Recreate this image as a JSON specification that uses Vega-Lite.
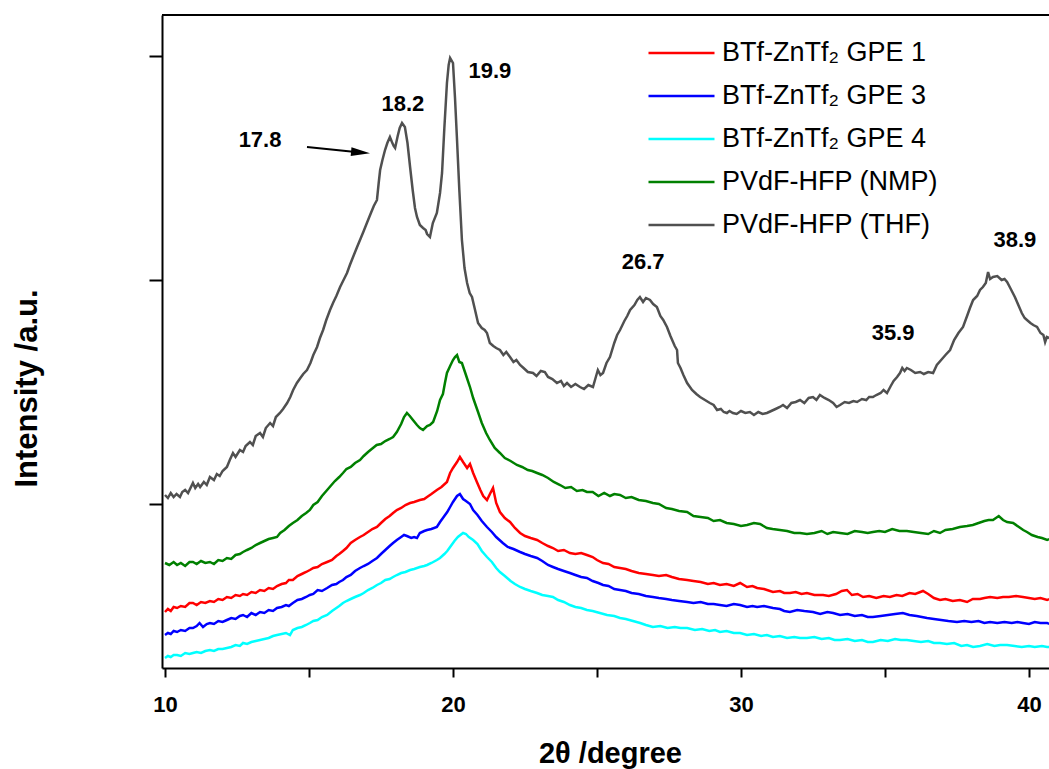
{
"$schema": "https://vega.github.io/schema/vega-lite/v6.json",
"width": 887, "height": 653,
"autosize": {"type": "none"},
"padding": {"left": 162, "top": 15, "right": 0, "bottom": 101},
"background": "white",
"config": {"view": {"stroke": null}, "font": "Liberation Sans"},
"datasets": {
"ann": [
{"t":"17.8","x":13.30,"y":528},{"t":"18.2","x":18.26,"y":564},{"t":"19.9","x":21.28,"y":597},
{"t":"26.7","x":26.60,"y":406},{"t":"35.9","x":35.28,"y":335},{"t":"38.9","x":39.51,"y":428}
],
"arrow": [{"x":14.93,"y":521,"x2":16.79,"y2":515.5}],
"xrd": [
{"s":"T","x":10.0,"y":173},{"s":"T","x":10.1,"y":170},{"s":"T","x":10.2,"y":175},{"s":"T","x":10.3,"y":171},{"s":"T","x":10.4,"y":174},{"s":"T","x":10.52,"y":171},{"s":"T","x":10.6,"y":176},{"s":"T","x":10.7,"y":178},{"s":"T","x":10.8,"y":175},{"s":"T","x":10.97,"y":185},{"s":"T","x":11.05,"y":180},{"s":"T","x":11.15,"y":184},{"s":"T","x":11.22,"y":181},{"s":"T","x":11.35,"y":186},{"s":"T","x":11.45,"y":183},{"s":"T","x":11.56,"y":191},{"s":"T","x":11.7,"y":188},{"s":"T","x":11.8,"y":194},{"s":"T","x":11.9,"y":192},{"s":"T","x":12.0,"y":197},{"s":"T","x":12.15,"y":201},{"s":"T","x":12.25,"y":208},{"s":"T","x":12.36,"y":215},{"s":"T","x":12.45,"y":211},{"s":"T","x":12.6,"y":218},{"s":"T","x":12.71,"y":216},{"s":"T","x":12.8,"y":222},{"s":"T","x":12.95,"y":226},{"s":"T","x":13.05,"y":223},{"s":"T","x":13.15,"y":232},{"s":"T","x":13.3,"y":235},{"s":"T","x":13.4,"y":231},{"s":"T","x":13.5,"y":240},{"s":"T","x":13.65,"y":245},{"s":"T","x":13.75,"y":242},{"s":"T","x":13.85,"y":251},{"s":"T","x":13.99,"y":255},{"s":"T","x":14.1,"y":259},{"s":"T","x":14.24,"y":265},{"s":"T","x":14.35,"y":271},{"s":"T","x":14.45,"y":278},{"s":"T","x":14.58,"y":285},{"s":"T","x":14.7,"y":290},{"s":"T","x":14.8,"y":294},{"s":"T","x":14.93,"y":298},{"s":"T","x":15.05,"y":305},{"s":"T","x":15.15,"y":313},{"s":"T","x":15.28,"y":321},{"s":"T","x":15.38,"y":330},{"s":"T","x":15.49,"y":338},{"s":"T","x":15.6,"y":348},{"s":"T","x":15.73,"y":358},{"s":"T","x":15.85,"y":366},{"s":"T","x":15.95,"y":372},{"s":"T","x":16.08,"y":381},{"s":"T","x":16.2,"y":388},{"s":"T","x":16.32,"y":395},{"s":"T","x":16.42,"y":403},{"s":"T","x":16.53,"y":411},{"s":"T","x":16.67,"y":421},{"s":"T","x":16.8,"y":430},{"s":"T","x":16.9,"y":437},{"s":"T","x":17.01,"y":445},{"s":"T","x":17.15,"y":455},{"s":"T","x":17.25,"y":462},{"s":"T","x":17.36,"y":468},{"s":"T","x":17.42,"y":485},{"s":"T","x":17.47,"y":498},{"s":"T","x":17.55,"y":508},{"s":"T","x":17.64,"y":518},{"s":"T","x":17.72,"y":525},{"s":"T","x":17.81,"y":531},{"s":"T","x":17.88,"y":526},{"s":"T","x":17.94,"y":522},{"s":"T","x":17.99,"y":520},{"s":"T","x":18.08,"y":532},{"s":"T","x":18.15,"y":540},{"s":"T","x":18.23,"y":545},{"s":"T","x":18.33,"y":541},{"s":"T","x":18.42,"y":525},{"s":"T","x":18.51,"y":501},{"s":"T","x":18.6,"y":478},{"s":"T","x":18.68,"y":460},{"s":"T","x":18.75,"y":451},{"s":"T","x":18.85,"y":443},{"s":"T","x":18.96,"y":440},{"s":"T","x":19.05,"y":438},{"s":"T","x":19.1,"y":434},{"s":"T","x":19.2,"y":431},{"s":"T","x":19.3,"y":445},{"s":"T","x":19.44,"y":455},{"s":"T","x":19.55,"y":475},{"s":"T","x":19.62,"y":495},{"s":"T","x":19.7,"y":540},{"s":"T","x":19.79,"y":585},{"s":"T","x":19.85,"y":603},{"s":"T","x":19.9,"y":610},{"s":"T","x":20.0,"y":605},{"s":"T","x":20.07,"y":570},{"s":"T","x":20.14,"y":528},{"s":"T","x":20.22,"y":478},{"s":"T","x":20.31,"y":428},{"s":"T","x":20.4,"y":400},{"s":"T","x":20.49,"y":385},{"s":"T","x":20.58,"y":375},{"s":"T","x":20.66,"y":371},{"s":"T","x":20.75,"y":360},{"s":"T","x":20.87,"y":345},{"s":"T","x":21.0,"y":340},{"s":"T","x":21.1,"y":338},{"s":"T","x":21.18,"y":335},{"s":"T","x":21.28,"y":325},{"s":"T","x":21.4,"y":322},{"s":"T","x":21.5,"y":320},{"s":"T","x":21.63,"y":318},{"s":"T","x":21.75,"y":313},{"s":"T","x":21.85,"y":316},{"s":"T","x":21.98,"y":311},{"s":"T","x":22.1,"y":306},{"s":"T","x":22.2,"y":308},{"s":"T","x":22.33,"y":303},{"s":"T","x":22.45,"y":300},{"s":"T","x":22.6,"y":296},{"s":"T","x":22.78,"y":295},{"s":"T","x":22.9,"y":292},{"s":"T","x":23.05,"y":297},{"s":"T","x":23.19,"y":296},{"s":"T","x":23.3,"y":291},{"s":"T","x":23.45,"y":289},{"s":"T","x":23.61,"y":285},{"s":"T","x":23.75,"y":287},{"s":"T","x":23.85,"y":282},{"s":"T","x":23.96,"y":285},{"s":"T","x":24.1,"y":281},{"s":"T","x":24.25,"y":284},{"s":"T","x":24.41,"y":281},{"s":"T","x":24.55,"y":279},{"s":"T","x":24.7,"y":283},{"s":"T","x":24.86,"y":281},{"s":"T","x":24.95,"y":290},{"s":"T","x":25.03,"y":298},{"s":"T","x":25.12,"y":293},{"s":"T","x":25.21,"y":295},{"s":"T","x":25.33,"y":305},{"s":"T","x":25.45,"y":311},{"s":"T","x":25.6,"y":325},{"s":"T","x":25.7,"y":333},{"s":"T","x":25.8,"y":338},{"s":"T","x":25.95,"y":347},{"s":"T","x":26.05,"y":352},{"s":"T","x":26.15,"y":358},{"s":"T","x":26.3,"y":363},{"s":"T","x":26.4,"y":368},{"s":"T","x":26.49,"y":371},{"s":"T","x":26.6,"y":366},{"s":"T","x":26.7,"y":370},{"s":"T","x":26.84,"y":368},{"s":"T","x":26.95,"y":364},{"s":"T","x":27.08,"y":361},{"s":"T","x":27.2,"y":352},{"s":"T","x":27.3,"y":348},{"s":"T","x":27.43,"y":341},{"s":"T","x":27.55,"y":332},{"s":"T","x":27.7,"y":322},{"s":"T","x":27.78,"y":318},{"s":"T","x":27.81,"y":305},{"s":"T","x":27.9,"y":300},{"s":"T","x":28.0,"y":293},{"s":"T","x":28.13,"y":285},{"s":"T","x":28.3,"y":278},{"s":"T","x":28.45,"y":274},{"s":"T","x":28.58,"y":271},{"s":"T","x":28.75,"y":268},{"s":"T","x":28.92,"y":265},{"s":"T","x":29.05,"y":263},{"s":"T","x":29.17,"y":258},{"s":"T","x":29.3,"y":259},{"s":"T","x":29.4,"y":256},{"s":"T","x":29.51,"y":255},{"s":"T","x":29.6,"y":257},{"s":"T","x":29.72,"y":255},{"s":"T","x":29.85,"y":254},{"s":"T","x":30.0,"y":257},{"s":"T","x":30.15,"y":255},{"s":"T","x":30.31,"y":256},{"s":"T","x":30.45,"y":253},{"s":"T","x":30.6,"y":256},{"s":"T","x":30.75,"y":254},{"s":"T","x":30.9,"y":255},{"s":"T","x":31.05,"y":257},{"s":"T","x":31.2,"y":259},{"s":"T","x":31.35,"y":261},{"s":"T","x":31.46,"y":263},{"s":"T","x":31.6,"y":260},{"s":"T","x":31.75,"y":265},{"s":"T","x":31.9,"y":266},{"s":"T","x":32.05,"y":268},{"s":"T","x":32.2,"y":265},{"s":"T","x":32.35,"y":270},{"s":"T","x":32.5,"y":271},{"s":"T","x":32.62,"y":268},{"s":"T","x":32.74,"y":273},{"s":"T","x":32.9,"y":270},{"s":"T","x":33.05,"y":268},{"s":"T","x":33.2,"y":265},{"s":"T","x":33.32,"y":261},{"s":"T","x":33.44,"y":263},{"s":"T","x":33.6,"y":266},{"s":"T","x":33.75,"y":265},{"s":"T","x":33.9,"y":267},{"s":"T","x":34.03,"y":266},{"s":"T","x":34.2,"y":269},{"s":"T","x":34.35,"y":268},{"s":"T","x":34.45,"y":271},{"s":"T","x":34.58,"y":271},{"s":"T","x":34.7,"y":273},{"s":"T","x":34.85,"y":275},{"s":"T","x":34.95,"y":278},{"s":"T","x":35.07,"y":275},{"s":"T","x":35.2,"y":282},{"s":"T","x":35.3,"y":287},{"s":"T","x":35.42,"y":291},{"s":"T","x":35.52,"y":295},{"s":"T","x":35.6,"y":300},{"s":"T","x":35.68,"y":297},{"s":"T","x":35.76,"y":300},{"s":"T","x":35.9,"y":298},{"s":"T","x":36.05,"y":295},{"s":"T","x":36.22,"y":296},{"s":"T","x":36.35,"y":294},{"s":"T","x":36.5,"y":296},{"s":"T","x":36.67,"y":295},{"s":"T","x":36.8,"y":303},{"s":"T","x":36.95,"y":308},{"s":"T","x":37.1,"y":313},{"s":"T","x":37.26,"y":318},{"s":"T","x":37.4,"y":328},{"s":"T","x":37.55,"y":335},{"s":"T","x":37.71,"y":341},{"s":"T","x":37.85,"y":352},{"s":"T","x":37.95,"y":360},{"s":"T","x":38.06,"y":368},{"s":"T","x":38.2,"y":372},{"s":"T","x":38.3,"y":378},{"s":"T","x":38.4,"y":381},{"s":"T","x":38.5,"y":385},{"s":"T","x":38.58,"y":396},{"s":"T","x":38.65,"y":389},{"s":"T","x":38.75,"y":391},{"s":"T","x":38.9,"y":392},{"s":"T","x":39.05,"y":388},{"s":"T","x":39.15,"y":389},{"s":"T","x":39.24,"y":386},{"s":"T","x":39.35,"y":380},{"s":"T","x":39.51,"y":371},{"s":"T","x":39.6,"y":365},{"s":"T","x":39.75,"y":355},{"s":"T","x":39.85,"y":350},{"s":"T","x":39.93,"y":348},{"s":"T","x":40.05,"y":345},{"s":"T","x":40.15,"y":343},{"s":"T","x":40.28,"y":341},{"s":"T","x":40.4,"y":335},{"s":"T","x":40.5,"y":333},{"s":"T","x":40.56,"y":326},{"s":"T","x":40.62,"y":331},{"s":"T","x":40.7,"y":330},
{"s":"N","x":10.0,"y":105},{"s":"N","x":10.15,"y":103},{"s":"N","x":10.3,"y":106},{"s":"N","x":10.42,"y":103},{"s":"N","x":10.55,"y":105},{"s":"N","x":10.7,"y":102},{"s":"N","x":10.85,"y":106},{"s":"N","x":10.97,"y":106},{"s":"N","x":11.1,"y":104},{"s":"N","x":11.25,"y":107},{"s":"N","x":11.4,"y":105},{"s":"N","x":11.56,"y":106},{"s":"N","x":11.7,"y":104},{"s":"N","x":11.85,"y":108},{"s":"N","x":12.0,"y":107},{"s":"N","x":12.15,"y":110},{"s":"N","x":12.3,"y":109},{"s":"N","x":12.45,"y":113},{"s":"N","x":12.6,"y":114},{"s":"N","x":12.71,"y":116},{"s":"N","x":12.85,"y":118},{"s":"N","x":13.0,"y":120},{"s":"N","x":13.15,"y":123},{"s":"N","x":13.3,"y":125},{"s":"N","x":13.45,"y":127},{"s":"N","x":13.6,"y":129},{"s":"N","x":13.75,"y":130},{"s":"N","x":13.89,"y":131},{"s":"N","x":14.0,"y":135},{"s":"N","x":14.15,"y":138},{"s":"N","x":14.3,"y":142},{"s":"N","x":14.44,"y":145},{"s":"N","x":14.6,"y":148},{"s":"N","x":14.75,"y":152},{"s":"N","x":14.9,"y":155},{"s":"N","x":15.03,"y":158},{"s":"N","x":15.15,"y":163},{"s":"N","x":15.3,"y":166},{"s":"N","x":15.45,"y":172},{"s":"N","x":15.63,"y":178},{"s":"N","x":15.75,"y":182},{"s":"N","x":15.9,"y":187},{"s":"N","x":16.05,"y":191},{"s":"N","x":16.18,"y":195},{"s":"N","x":16.3,"y":199},{"s":"N","x":16.45,"y":201},{"s":"N","x":16.6,"y":205},{"s":"N","x":16.77,"y":208},{"s":"N","x":16.9,"y":212},{"s":"N","x":17.05,"y":216},{"s":"N","x":17.22,"y":220},{"s":"N","x":17.35,"y":223},{"s":"N","x":17.5,"y":224},{"s":"N","x":17.65,"y":227},{"s":"N","x":17.8,"y":229},{"s":"N","x":17.92,"y":231},{"s":"N","x":18.05,"y":236},{"s":"N","x":18.2,"y":244},{"s":"N","x":18.3,"y":251},{"s":"N","x":18.4,"y":255},{"s":"N","x":18.5,"y":252},{"s":"N","x":18.61,"y":248},{"s":"N","x":18.75,"y":243},{"s":"N","x":18.85,"y":240},{"s":"N","x":18.96,"y":238},{"s":"N","x":19.1,"y":242},{"s":"N","x":19.2,"y":243},{"s":"N","x":19.31,"y":246},{"s":"N","x":19.45,"y":257},{"s":"N","x":19.55,"y":268},{"s":"N","x":19.65,"y":274},{"s":"N","x":19.72,"y":285},{"s":"N","x":19.79,"y":295},{"s":"N","x":19.9,"y":302},{"s":"N","x":20.0,"y":308},{"s":"N","x":20.07,"y":311},{"s":"N","x":20.14,"y":313},{"s":"N","x":20.22,"y":306},{"s":"N","x":20.31,"y":305},{"s":"N","x":20.45,"y":293},{"s":"N","x":20.59,"y":281},{"s":"N","x":20.7,"y":270},{"s":"N","x":20.87,"y":256},{"s":"N","x":21.0,"y":245},{"s":"N","x":21.15,"y":235},{"s":"N","x":21.28,"y":228},{"s":"N","x":21.45,"y":220},{"s":"N","x":21.63,"y":215},{"s":"N","x":21.8,"y":210},{"s":"N","x":22.0,"y":207},{"s":"N","x":22.22,"y":203},{"s":"N","x":22.4,"y":201},{"s":"N","x":22.6,"y":198},{"s":"N","x":22.75,"y":197},{"s":"N","x":22.92,"y":195},{"s":"N","x":23.1,"y":193},{"s":"N","x":23.3,"y":190},{"s":"N","x":23.5,"y":186},{"s":"N","x":23.72,"y":183},{"s":"N","x":23.9,"y":180},{"s":"N","x":24.1,"y":181},{"s":"N","x":24.3,"y":177},{"s":"N","x":24.5,"y":178},{"s":"N","x":24.65,"y":176},{"s":"N","x":24.85,"y":176},{"s":"N","x":25.05,"y":172},{"s":"N","x":25.25,"y":175},{"s":"N","x":25.45,"y":172},{"s":"N","x":25.6,"y":174},{"s":"N","x":25.8,"y":173},{"s":"N","x":26.0,"y":170},{"s":"N","x":26.2,"y":171},{"s":"N","x":26.45,"y":168},{"s":"N","x":26.7,"y":167},{"s":"N","x":26.94,"y":165},{"s":"N","x":27.15,"y":164},{"s":"N","x":27.4,"y":160},{"s":"N","x":27.6,"y":159},{"s":"N","x":27.85,"y":157},{"s":"N","x":28.13,"y":156},{"s":"N","x":28.35,"y":152},{"s":"N","x":28.6,"y":151},{"s":"N","x":28.85,"y":150},{"s":"N","x":29.05,"y":147},{"s":"N","x":29.27,"y":148},{"s":"N","x":29.5,"y":145},{"s":"N","x":29.75,"y":144},{"s":"N","x":30.0,"y":142},{"s":"N","x":30.21,"y":143},{"s":"N","x":30.45,"y":145},{"s":"N","x":30.66,"y":144},{"s":"N","x":30.9,"y":140},{"s":"N","x":31.1,"y":139},{"s":"N","x":31.35,"y":138},{"s":"N","x":31.6,"y":137},{"s":"N","x":31.85,"y":135},{"s":"N","x":32.05,"y":135},{"s":"N","x":32.29,"y":134},{"s":"N","x":32.55,"y":135},{"s":"N","x":32.8,"y":137},{"s":"N","x":33.0,"y":134},{"s":"N","x":33.2,"y":136},{"s":"N","x":33.44,"y":135},{"s":"N","x":33.7,"y":134},{"s":"N","x":33.95,"y":137},{"s":"N","x":34.2,"y":136},{"s":"N","x":34.4,"y":135},{"s":"N","x":34.58,"y":136},{"s":"N","x":34.8,"y":137},{"s":"N","x":35.0,"y":136},{"s":"N","x":35.25,"y":139},{"s":"N","x":35.5,"y":137},{"s":"N","x":35.76,"y":137},{"s":"N","x":36.0,"y":136},{"s":"N","x":36.25,"y":135},{"s":"N","x":36.5,"y":134},{"s":"N","x":36.7,"y":137},{"s":"N","x":36.91,"y":135},{"s":"N","x":37.1,"y":138},{"s":"N","x":37.35,"y":139},{"s":"N","x":37.6,"y":141},{"s":"N","x":37.85,"y":142},{"s":"N","x":38.05,"y":143},{"s":"N","x":38.25,"y":145},{"s":"N","x":38.45,"y":147},{"s":"N","x":38.6,"y":148},{"s":"N","x":38.75,"y":148},{"s":"N","x":38.95,"y":152},{"s":"N","x":39.1,"y":148},{"s":"N","x":39.24,"y":146},{"s":"N","x":39.45,"y":145},{"s":"N","x":39.65,"y":141},{"s":"N","x":39.8,"y":138},{"s":"N","x":39.93,"y":136},{"s":"N","x":40.1,"y":133},{"s":"N","x":40.3,"y":131},{"s":"N","x":40.45,"y":130},{"s":"N","x":40.63,"y":128},{"s":"N","x":40.7,"y":129},
{"s":"1","x":10.0,"y":56},{"s":"1","x":10.1,"y":59},{"s":"1","x":10.2,"y":57},{"s":"1","x":10.3,"y":61},{"s":"1","x":10.42,"y":60},{"s":"1","x":10.55,"y":62},{"s":"1","x":10.7,"y":61},{"s":"1","x":10.85,"y":65},{"s":"1","x":10.97,"y":65},{"s":"1","x":11.1,"y":63},{"s":"1","x":11.25,"y":66},{"s":"1","x":11.4,"y":65},{"s":"1","x":11.56,"y":67},{"s":"1","x":11.7,"y":66},{"s":"1","x":11.85,"y":69},{"s":"1","x":12.0,"y":68},{"s":"1","x":12.15,"y":71},{"s":"1","x":12.3,"y":70},{"s":"1","x":12.45,"y":73},{"s":"1","x":12.6,"y":72},{"s":"1","x":12.71,"y":74},{"s":"1","x":12.85,"y":73},{"s":"1","x":13.0,"y":76},{"s":"1","x":13.15,"y":75},{"s":"1","x":13.3,"y":78},{"s":"1","x":13.45,"y":77},{"s":"1","x":13.6,"y":80},{"s":"1","x":13.75,"y":79},{"s":"1","x":13.89,"y":82},{"s":"1","x":14.05,"y":84},{"s":"1","x":14.2,"y":85},{"s":"1","x":14.3,"y":88},{"s":"1","x":14.44,"y":88},{"s":"1","x":14.6,"y":92},{"s":"1","x":14.75,"y":94},{"s":"1","x":14.9,"y":96},{"s":"1","x":15.03,"y":98},{"s":"1","x":15.15,"y":100},{"s":"1","x":15.3,"y":101},{"s":"1","x":15.45,"y":104},{"s":"1","x":15.63,"y":106},{"s":"1","x":15.8,"y":108},{"s":"1","x":15.95,"y":112},{"s":"1","x":16.05,"y":114},{"s":"1","x":16.18,"y":117},{"s":"1","x":16.3,"y":120},{"s":"1","x":16.45,"y":125},{"s":"1","x":16.6,"y":128},{"s":"1","x":16.77,"y":131},{"s":"1","x":16.9,"y":133},{"s":"1","x":17.05,"y":136},{"s":"1","x":17.2,"y":139},{"s":"1","x":17.36,"y":141},{"s":"1","x":17.5,"y":145},{"s":"1","x":17.65,"y":149},{"s":"1","x":17.8,"y":152},{"s":"1","x":17.92,"y":155},{"s":"1","x":18.05,"y":158},{"s":"1","x":18.2,"y":160},{"s":"1","x":18.35,"y":163},{"s":"1","x":18.51,"y":165},{"s":"1","x":18.65,"y":166},{"s":"1","x":18.85,"y":168},{"s":"1","x":19.0,"y":169},{"s":"1","x":19.1,"y":171},{"s":"1","x":19.25,"y":174},{"s":"1","x":19.44,"y":178},{"s":"1","x":19.6,"y":181},{"s":"1","x":19.79,"y":186},{"s":"1","x":19.9,"y":195},{"s":"1","x":20.0,"y":200},{"s":"1","x":20.14,"y":206},{"s":"1","x":20.24,"y":211},{"s":"1","x":20.35,"y":206},{"s":"1","x":20.49,"y":200},{"s":"1","x":20.59,"y":204},{"s":"1","x":20.7,"y":195},{"s":"1","x":20.83,"y":186},{"s":"1","x":20.95,"y":178},{"s":"1","x":21.05,"y":172},{"s":"1","x":21.18,"y":168},{"s":"1","x":21.3,"y":175},{"s":"1","x":21.39,"y":180},{"s":"1","x":21.5,"y":165},{"s":"1","x":21.63,"y":156},{"s":"1","x":21.8,"y":150},{"s":"1","x":21.98,"y":146},{"s":"1","x":22.15,"y":140},{"s":"1","x":22.33,"y":135},{"s":"1","x":22.5,"y":132},{"s":"1","x":22.7,"y":130},{"s":"1","x":22.92,"y":128},{"s":"1","x":23.1,"y":125},{"s":"1","x":23.3,"y":122},{"s":"1","x":23.47,"y":120},{"s":"1","x":23.65,"y":117},{"s":"1","x":23.85,"y":118},{"s":"1","x":24.06,"y":115},{"s":"1","x":24.25,"y":114},{"s":"1","x":24.45,"y":115},{"s":"1","x":24.65,"y":113},{"s":"1","x":24.85,"y":111},{"s":"1","x":25.0,"y":108},{"s":"1","x":25.21,"y":105},{"s":"1","x":25.4,"y":104},{"s":"1","x":25.6,"y":101},{"s":"1","x":25.8,"y":100},{"s":"1","x":26.0,"y":99},{"s":"1","x":26.2,"y":97},{"s":"1","x":26.45,"y":95},{"s":"1","x":26.7,"y":94},{"s":"1","x":26.94,"y":93},{"s":"1","x":27.15,"y":92},{"s":"1","x":27.4,"y":93},{"s":"1","x":27.6,"y":91},{"s":"1","x":27.85,"y":89},{"s":"1","x":28.13,"y":88},{"s":"1","x":28.35,"y":87},{"s":"1","x":28.6,"y":86},{"s":"1","x":28.85,"y":84},{"s":"1","x":29.05,"y":85},{"s":"1","x":29.27,"y":83},{"s":"1","x":29.5,"y":84},{"s":"1","x":29.75,"y":82},{"s":"1","x":29.97,"y":85},{"s":"1","x":30.21,"y":81},{"s":"1","x":30.4,"y":82},{"s":"1","x":30.56,"y":80},{"s":"1","x":30.8,"y":79},{"s":"1","x":31.11,"y":76},{"s":"1","x":31.35,"y":77},{"s":"1","x":31.5,"y":75},{"s":"1","x":31.7,"y":75},{"s":"1","x":31.9,"y":76},{"s":"1","x":32.1,"y":74},{"s":"1","x":32.29,"y":75},{"s":"1","x":32.55,"y":73},{"s":"1","x":32.85,"y":73},{"s":"1","x":33.05,"y":72},{"s":"1","x":33.3,"y":74},{"s":"1","x":33.5,"y":77},{"s":"1","x":33.68,"y":78},{"s":"1","x":33.85,"y":73},{"s":"1","x":34.05,"y":74},{"s":"1","x":34.24,"y":71},{"s":"1","x":34.45,"y":72},{"s":"1","x":34.7,"y":70},{"s":"1","x":34.95,"y":72},{"s":"1","x":35.17,"y":71},{"s":"1","x":35.4,"y":73},{"s":"1","x":35.6,"y":72},{"s":"1","x":35.85,"y":75},{"s":"1","x":36.05,"y":74},{"s":"1","x":36.32,"y":77},{"s":"1","x":36.5,"y":74},{"s":"1","x":36.7,"y":70},{"s":"1","x":36.91,"y":68},{"s":"1","x":37.1,"y":69},{"s":"1","x":37.35,"y":67},{"s":"1","x":37.6,"y":68},{"s":"1","x":37.85,"y":66},{"s":"1","x":38.05,"y":69},{"s":"1","x":38.3,"y":69},{"s":"1","x":38.45,"y":70},{"s":"1","x":38.65,"y":71},{"s":"1","x":38.9,"y":70},{"s":"1","x":39.1,"y":71},{"s":"1","x":39.3,"y":71},{"s":"1","x":39.55,"y":72},{"s":"1","x":39.79,"y":71},{"s":"1","x":40.0,"y":70},{"s":"1","x":40.2,"y":69},{"s":"1","x":40.4,"y":70},{"s":"1","x":40.63,"y":68},{"s":"1","x":40.7,"y":69},
{"s":"3","x":10.0,"y":33},{"s":"3","x":10.1,"y":35},{"s":"3","x":10.2,"y":34},{"s":"3","x":10.3,"y":37},{"s":"3","x":10.42,"y":36},{"s":"3","x":10.55,"y":38},{"s":"3","x":10.7,"y":37},{"s":"3","x":10.85,"y":40},{"s":"3","x":10.97,"y":40},{"s":"3","x":11.1,"y":42},{"s":"3","x":11.2,"y":45},{"s":"3","x":11.32,"y":41},{"s":"3","x":11.45,"y":44},{"s":"3","x":11.56,"y":45},{"s":"3","x":11.7,"y":44},{"s":"3","x":11.85,"y":47},{"s":"3","x":12.0,"y":46},{"s":"3","x":12.15,"y":48},{"s":"3","x":12.3,"y":50},{"s":"3","x":12.45,"y":49},{"s":"3","x":12.6,"y":52},{"s":"3","x":12.71,"y":53},{"s":"3","x":12.85,"y":51},{"s":"3","x":13.0,"y":55},{"s":"3","x":13.15,"y":53},{"s":"3","x":13.3,"y":56},{"s":"3","x":13.45,"y":55},{"s":"3","x":13.6,"y":58},{"s":"3","x":13.75,"y":57},{"s":"3","x":13.89,"y":60},{"s":"3","x":14.05,"y":61},{"s":"3","x":14.2,"y":63},{"s":"3","x":14.3,"y":62},{"s":"3","x":14.44,"y":65},{"s":"3","x":14.6,"y":68},{"s":"3","x":14.75,"y":69},{"s":"3","x":14.9,"y":71},{"s":"3","x":15.03,"y":73},{"s":"3","x":15.15,"y":74},{"s":"3","x":15.3,"y":78},{"s":"3","x":15.45,"y":77},{"s":"3","x":15.63,"y":80},{"s":"3","x":15.8,"y":83},{"s":"3","x":15.95,"y":84},{"s":"3","x":16.05,"y":86},{"s":"3","x":16.18,"y":88},{"s":"3","x":16.3,"y":91},{"s":"3","x":16.45,"y":93},{"s":"3","x":16.6,"y":97},{"s":"3","x":16.77,"y":100},{"s":"3","x":16.9,"y":102},{"s":"3","x":17.05,"y":104},{"s":"3","x":17.2,"y":107},{"s":"3","x":17.36,"y":110},{"s":"3","x":17.5,"y":114},{"s":"3","x":17.65,"y":118},{"s":"3","x":17.8,"y":122},{"s":"3","x":17.92,"y":125},{"s":"3","x":18.05,"y":128},{"s":"3","x":18.2,"y":131},{"s":"3","x":18.3,"y":133},{"s":"3","x":18.4,"y":132},{"s":"3","x":18.55,"y":130},{"s":"3","x":18.65,"y":131},{"s":"3","x":18.75,"y":130},{"s":"3","x":18.85,"y":135},{"s":"3","x":19.0,"y":137},{"s":"3","x":19.1,"y":138},{"s":"3","x":19.25,"y":139},{"s":"3","x":19.44,"y":141},{"s":"3","x":19.55,"y":146},{"s":"3","x":19.7,"y":152},{"s":"3","x":19.8,"y":156},{"s":"3","x":19.9,"y":161},{"s":"3","x":20.0,"y":166},{"s":"3","x":20.14,"y":172},{"s":"3","x":20.24,"y":174},{"s":"3","x":20.35,"y":169},{"s":"3","x":20.45,"y":167},{"s":"3","x":20.59,"y":164},{"s":"3","x":20.7,"y":158},{"s":"3","x":20.85,"y":153},{"s":"3","x":21.0,"y":147},{"s":"3","x":21.18,"y":141},{"s":"3","x":21.35,"y":136},{"s":"3","x":21.5,"y":131},{"s":"3","x":21.73,"y":125},{"s":"3","x":21.9,"y":121},{"s":"3","x":22.1,"y":119},{"s":"3","x":22.33,"y":116},{"s":"3","x":22.5,"y":114},{"s":"3","x":22.7,"y":112},{"s":"3","x":22.92,"y":110},{"s":"3","x":23.1,"y":107},{"s":"3","x":23.3,"y":103},{"s":"3","x":23.47,"y":101},{"s":"3","x":23.65,"y":99},{"s":"3","x":23.85,"y":97},{"s":"3","x":24.06,"y":95},{"s":"3","x":24.25,"y":93},{"s":"3","x":24.45,"y":91},{"s":"3","x":24.65,"y":90},{"s":"3","x":24.85,"y":87},{"s":"3","x":25.05,"y":85},{"s":"3","x":25.21,"y":83},{"s":"3","x":25.4,"y":82},{"s":"3","x":25.6,"y":79},{"s":"3","x":25.8,"y":78},{"s":"3","x":26.0,"y":77},{"s":"3","x":26.2,"y":75},{"s":"3","x":26.45,"y":74},{"s":"3","x":26.7,"y":72},{"s":"3","x":26.94,"y":71},{"s":"3","x":27.15,"y":70},{"s":"3","x":27.4,"y":69},{"s":"3","x":27.6,"y":68},{"s":"3","x":27.85,"y":67},{"s":"3","x":28.13,"y":66},{"s":"3","x":28.35,"y":65},{"s":"3","x":28.6,"y":66},{"s":"3","x":28.85,"y":64},{"s":"3","x":29.05,"y":64},{"s":"3","x":29.27,"y":63},{"s":"3","x":29.5,"y":62},{"s":"3","x":29.75,"y":64},{"s":"3","x":29.97,"y":63},{"s":"3","x":30.21,"y":61},{"s":"3","x":30.4,"y":62},{"s":"3","x":30.56,"y":61},{"s":"3","x":30.8,"y":62},{"s":"3","x":31.11,"y":60},{"s":"3","x":31.35,"y":59},{"s":"3","x":31.5,"y":57},{"s":"3","x":31.7,"y":56},{"s":"3","x":31.95,"y":58},{"s":"3","x":32.2,"y":57},{"s":"3","x":32.5,"y":56},{"s":"3","x":32.75,"y":54},{"s":"3","x":33.0,"y":56},{"s":"3","x":33.2,"y":55},{"s":"3","x":33.44,"y":53},{"s":"3","x":33.7,"y":54},{"s":"3","x":33.95,"y":52},{"s":"3","x":34.2,"y":53},{"s":"3","x":34.4,"y":51},{"s":"3","x":34.58,"y":51},{"s":"3","x":34.85,"y":52},{"s":"3","x":35.1,"y":53},{"s":"3","x":35.35,"y":54},{"s":"3","x":35.62,"y":55},{"s":"3","x":35.85,"y":53},{"s":"3","x":36.1,"y":52},{"s":"3","x":36.46,"y":50},{"s":"3","x":36.7,"y":49},{"s":"3","x":36.95,"y":48},{"s":"3","x":37.2,"y":47},{"s":"3","x":37.5,"y":46},{"s":"3","x":37.75,"y":47},{"s":"3","x":38.0,"y":46},{"s":"3","x":38.25,"y":47},{"s":"3","x":38.45,"y":45},{"s":"3","x":38.65,"y":46},{"s":"3","x":38.9,"y":45},{"s":"3","x":39.15,"y":46},{"s":"3","x":39.4,"y":45},{"s":"3","x":39.6,"y":46},{"s":"3","x":39.79,"y":45},{"s":"3","x":40.0,"y":44},{"s":"3","x":40.2,"y":46},{"s":"3","x":40.4,"y":45},{"s":"3","x":40.63,"y":45},{"s":"3","x":40.7,"y":44},
{"s":"4","x":10.0,"y":10},{"s":"4","x":10.1,"y":12},{"s":"4","x":10.2,"y":11},{"s":"4","x":10.3,"y":13},{"s":"4","x":10.42,"y":13},{"s":"4","x":10.55,"y":12},{"s":"4","x":10.7,"y":15},{"s":"4","x":10.85,"y":14},{"s":"4","x":10.97,"y":15},{"s":"4","x":11.1,"y":16},{"s":"4","x":11.25,"y":15},{"s":"4","x":11.4,"y":17},{"s":"4","x":11.56,"y":18},{"s":"4","x":11.7,"y":17},{"s":"4","x":11.85,"y":19},{"s":"4","x":12.0,"y":19},{"s":"4","x":12.15,"y":20},{"s":"4","x":12.3,"y":21},{"s":"4","x":12.45,"y":23},{"s":"4","x":12.6,"y":22},{"s":"4","x":12.71,"y":25},{"s":"4","x":12.85,"y":24},{"s":"4","x":13.0,"y":26},{"s":"4","x":13.15,"y":27},{"s":"4","x":13.3,"y":28},{"s":"4","x":13.45,"y":29},{"s":"4","x":13.6,"y":30},{"s":"4","x":13.75,"y":32},{"s":"4","x":13.89,"y":33},{"s":"4","x":14.05,"y":34},{"s":"4","x":14.2,"y":35},{"s":"4","x":14.34,"y":33},{"s":"4","x":14.44,"y":38},{"s":"4","x":14.6,"y":40},{"s":"4","x":14.75,"y":41},{"s":"4","x":14.9,"y":43},{"s":"4","x":15.03,"y":45},{"s":"4","x":15.15,"y":47},{"s":"4","x":15.3,"y":48},{"s":"4","x":15.45,"y":51},{"s":"4","x":15.63,"y":53},{"s":"4","x":15.8,"y":57},{"s":"4","x":15.95,"y":60},{"s":"4","x":16.05,"y":62},{"s":"4","x":16.18,"y":65},{"s":"4","x":16.3,"y":67},{"s":"4","x":16.45,"y":69},{"s":"4","x":16.6,"y":71},{"s":"4","x":16.77,"y":73},{"s":"4","x":16.9,"y":75},{"s":"4","x":17.05,"y":78},{"s":"4","x":17.2,"y":80},{"s":"4","x":17.36,"y":83},{"s":"4","x":17.5,"y":85},{"s":"4","x":17.65,"y":88},{"s":"4","x":17.8,"y":89},{"s":"4","x":17.92,"y":91},{"s":"4","x":18.05,"y":93},{"s":"4","x":18.2,"y":95},{"s":"4","x":18.35,"y":96},{"s":"4","x":18.51,"y":98},{"s":"4","x":18.65,"y":99},{"s":"4","x":18.85,"y":101},{"s":"4","x":19.0,"y":102},{"s":"4","x":19.1,"y":103},{"s":"4","x":19.25,"y":105},{"s":"4","x":19.44,"y":108},{"s":"4","x":19.55,"y":110},{"s":"4","x":19.7,"y":114},{"s":"4","x":19.8,"y":117},{"s":"4","x":19.9,"y":121},{"s":"4","x":20.05,"y":127},{"s":"4","x":20.17,"y":131},{"s":"4","x":20.35,"y":135},{"s":"4","x":20.45,"y":134},{"s":"4","x":20.55,"y":131},{"s":"4","x":20.7,"y":128},{"s":"4","x":20.85,"y":124},{"s":"4","x":21.0,"y":117},{"s":"4","x":21.18,"y":111},{"s":"4","x":21.35,"y":106},{"s":"4","x":21.5,"y":100},{"s":"4","x":21.63,"y":96},{"s":"4","x":21.8,"y":92},{"s":"4","x":22.0,"y":87},{"s":"4","x":22.15,"y":84},{"s":"4","x":22.33,"y":81},{"s":"4","x":22.5,"y":79},{"s":"4","x":22.7,"y":77},{"s":"4","x":22.92,"y":75},{"s":"4","x":23.1,"y":73},{"s":"4","x":23.3,"y":72},{"s":"4","x":23.47,"y":71},{"s":"4","x":23.65,"y":68},{"s":"4","x":23.85,"y":66},{"s":"4","x":24.06,"y":63},{"s":"4","x":24.25,"y":61},{"s":"4","x":24.45,"y":60},{"s":"4","x":24.65,"y":58},{"s":"4","x":24.85,"y":57},{"s":"4","x":25.1,"y":55},{"s":"4","x":25.35,"y":53},{"s":"4","x":25.6,"y":52},{"s":"4","x":25.8,"y":50},{"s":"4","x":26.0,"y":49},{"s":"4","x":26.25,"y":47},{"s":"4","x":26.5,"y":45},{"s":"4","x":26.7,"y":43},{"s":"4","x":26.94,"y":41},{"s":"4","x":27.2,"y":42},{"s":"4","x":27.45,"y":40},{"s":"4","x":27.7,"y":41},{"s":"4","x":27.9,"y":40},{"s":"4","x":28.13,"y":40},{"s":"4","x":28.4,"y":38},{"s":"4","x":28.65,"y":39},{"s":"4","x":28.9,"y":37},{"s":"4","x":29.1,"y":38},{"s":"4","x":29.27,"y":36},{"s":"4","x":29.5,"y":37},{"s":"4","x":29.75,"y":35},{"s":"4","x":29.97,"y":35},{"s":"4","x":30.21,"y":33},{"s":"4","x":30.45,"y":34},{"s":"4","x":30.7,"y":32},{"s":"4","x":30.9,"y":33},{"s":"4","x":31.11,"y":31},{"s":"4","x":31.35,"y":32},{"s":"4","x":31.6,"y":30},{"s":"4","x":31.85,"y":31},{"s":"4","x":32.05,"y":30},{"s":"4","x":32.29,"y":30},{"s":"4","x":32.55,"y":31},{"s":"4","x":32.8,"y":29},{"s":"4","x":33.05,"y":30},{"s":"4","x":33.25,"y":28},{"s":"4","x":33.44,"y":28},{"s":"4","x":33.7,"y":29},{"s":"4","x":33.95,"y":27},{"s":"4","x":34.2,"y":28},{"s":"4","x":34.4,"y":26},{"s":"4","x":34.58,"y":26},{"s":"4","x":34.85,"y":28},{"s":"4","x":35.1,"y":27},{"s":"4","x":35.35,"y":29},{"s":"4","x":35.55,"y":28},{"s":"4","x":35.76,"y":28},{"s":"4","x":36.0,"y":27},{"s":"4","x":36.25,"y":26},{"s":"4","x":36.5,"y":27},{"s":"4","x":36.7,"y":25},{"s":"4","x":36.91,"y":25},{"s":"4","x":37.15,"y":24},{"s":"4","x":37.4,"y":25},{"s":"4","x":37.65,"y":22},{"s":"4","x":37.85,"y":23},{"s":"4","x":38.06,"y":21},{"s":"4","x":38.3,"y":22},{"s":"4","x":38.55,"y":24},{"s":"4","x":38.8,"y":22},{"s":"4","x":39.0,"y":23},{"s":"4","x":39.24,"y":23},{"s":"4","x":39.5,"y":22},{"s":"4","x":39.75,"y":21},{"s":"4","x":40.0,"y":22},{"s":"4","x":40.2,"y":21},{"s":"4","x":40.45,"y":22},{"s":"4","x":40.63,"y":21},{"s":"4","x":40.7,"y":21}
]
},
"layer": [
{
"data": {"name": "xrd"},
"mark": {"type": "line", "clip": true},
"encoding": {
"x": {"field": "x", "type": "quantitative",
"scale": {"domain": [9.896, 40.695], "nice": false, "zero": false},
"axis": {"values": [10,15,20,25,30,35,40], "labelExpr": "datum.value % 10 === 0 ? datum.label : ''",
"title": "2θ /degree", "titleFontSize": 29, "titleFontWeight": "bold", "titleColor": "black",
"titleX": 448, "titleY": 94, "titleBaseline": "alphabetic", "titleAlign": "center",
"labelFontSize": 22, "labelFontWeight": "bold", "labelColor": "black", "labelBaseline": "alphabetic", "labelPadding": 34,
"labelFlush": false, "labelOverlap": false,
"domainColor": "black", "domainWidth": 2, "tickColor": "black", "tickWidth": 2, "tickSize": 9, "grid": false}},
"y": {"field": "y", "type": "quantitative",
"scale": {"domain": [0, 653], "nice": false, "zero": false},
"axis": {"values": [164, 388, 612], "labels": false, "title": "Intensity /a.u.",
"titleFontSize": 31, "titleFontWeight": "bold", "titleColor": "black",
"titleX": -126, "titleY": 373, "titleAngle": 270, "titleBaseline": "alphabetic", "titleAlign": "center",
"domainColor": "black", "domainWidth": 2, "tickColor": "black", "tickWidth": 2, "tickSize": 13, "grid": false}},
"color": {"field": "s", "type": "nominal",
"scale": {"domain": ["1","3","4","N","T"], "range": ["#ff0000","#0000ff","#00ffff","#008000","#505050"]},
"legend": {"orient": "none", "legendX": 485, "legendY": 23, "title": null, "labelLimit": 0,
"labelFontSize": 27, "labelColor": "black", "symbolType": "stroke", "symbolSize": 4356, "labelOffset": 6,
"clipHeight": 30, "rowPadding": 13,
"labelExpr": "datum.label == '1' ? 'BTf-ZnTf₂ GPE 1' : datum.label == '3' ? 'BTf-ZnTf₂ GPE 3' : datum.label == '4' ? 'BTf-ZnTf₂ GPE 4' : datum.label == 'N' ? 'PVdF-HFP (NMP)' : 'PVdF-HFP (THF)'"}},
"strokeWidth": {"field": "s", "type": "nominal",
"scale": {"domain": ["1","3","4","N","T"], "range": [2.5,2.5,2.5,2.5,1]},
"legend": {"orient": "none", "legendX": 485, "legendY": 23, "title": null, "labelLimit": 0,
"labelFontSize": 27, "labelColor": "black", "symbolType": "stroke", "symbolSize": 4356, "labelOffset": 6,
"clipHeight": 30, "rowPadding": 13,
"labelExpr": "datum.label == '1' ? 'BTf-ZnTf₂ GPE 1' : datum.label == '3' ? 'BTf-ZnTf₂ GPE 3' : datum.label == '4' ? 'BTf-ZnTf₂ GPE 4' : datum.label == 'N' ? 'PVdF-HFP (NMP)' : 'PVdF-HFP (THF)'"}}
}
},
{
"data": {"values": [{}]},
"mark": {"type": "rule", "color": "black", "strokeWidth": 2},
"encoding": {"y": {"datum": 653}, "x": {"datum": 9.896}, "x2": {"datum": 40.695}}
},
{
"data": {"name": "ann"},
"mark": {"type": "text", "fontWeight": "bold", "fontSize": 22, "color": "black", "baseline": "middle", "align": "center"},
"encoding": {"x": {"field": "x", "type": "quantitative"}, "y": {"field": "y", "type": "quantitative"}, "text": {"field": "t"}}
},
{
"data": {"name": "arrow"},
"mark": {"type": "rule", "color": "black", "strokeWidth": 2},
"encoding": {"x": {"field": "x", "type": "quantitative"}, "y": {"field": "y", "type": "quantitative"}, "x2": {"field": "x2"}, "y2": {"field": "y2"}}
},
{
"data": {"name": "arrow"},
"mark": {"type": "point", "shape": "M-1,-0.47L1,0L-1,0.47Z", "filled": true, "color": "black", "opacity": 1, "size": 361, "angle": 5},
"encoding": {"x": {"field": "x2", "type": "quantitative"}, "y": {"field": "y2", "type": "quantitative"}}
}
]
}
